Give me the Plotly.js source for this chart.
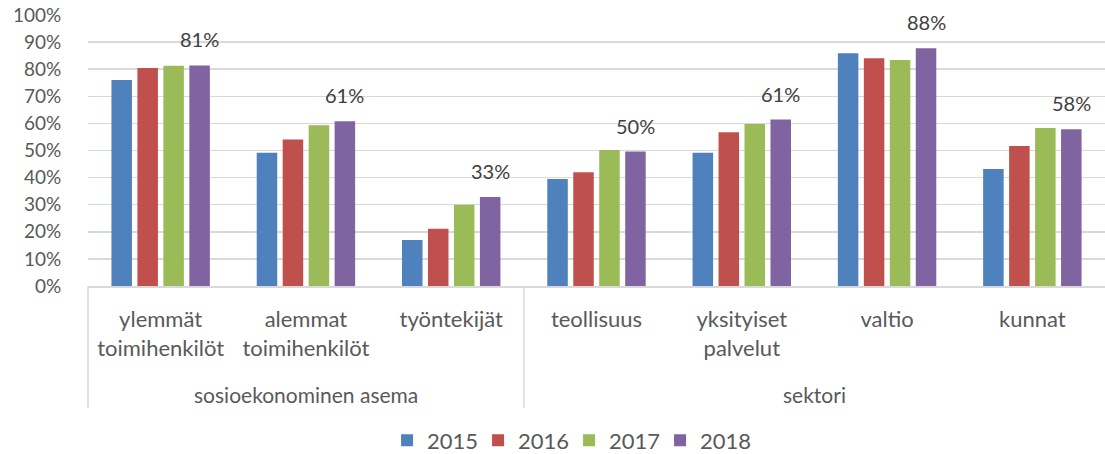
<!DOCTYPE html>
<html>
<head>
<meta charset="utf-8">
<script src="https://cdn.plot.ly/plotly-3.0.1.min.js"></script>
<style>
  html, body { margin: 0; padding: 0; background: #ffffff; }
  #chart { width: 1105px; height: 454px; }
</style>
</head>
<body>
<div id="chart"></div>
<script>
// ---- Data (values in percent) ----
const categories = [
  'ylemmät<br>toimihenkilöt',
  'alemmat<br>toimihenkilöt',
  'työntekijät',
  'teollisuus',
  'yksityiset<br>palvelut',
  'valtio',
  'kunnat'
];
const groups = ['sosioekonominen asema', 'sektori'];
const groupCenters = [1, 4.5];
const groupDivider = 2.5;
const years = ['2015', '2016', '2017', '2018'];
const v2015 = [76.0, 49.2, 17.0, 39.5, 49.2, 85.9, 43.2];
const v2016 = [80.4, 54.1, 21.1, 42.0, 56.7, 84.0, 51.7];
const v2017 = [81.3, 59.3, 30.0, 50.2, 59.8, 83.4, 58.3];
const v2018 = [81.4, 60.8, 32.8, 49.6, 61.4, 87.7, 57.8];
const colors = ['#4F81BD', '#C0504D', '#9BBB59', '#8064A2'];

const series = [v2015, v2016, v2017, v2018];
const FONT = 'Lato, "Open Sans", sans-serif';
const TXT = '#595959';

const traces = series.map((vals, i) => ({
  type: 'bar',
  name: years[i],
  x: categories,
  y: vals,
  marker: { color: colors[i], line: { width: 0 } },
  hoverinfo: 'x+y+name'
}));

// layout geometry
const W = 1105, H = 454;
const margin = { l: 88, r: 0, t: 15, b: 168 };
const bargap = 0.285, bargroupgap = 0.21;
const catPx = (W - margin.l - margin.r) / categories.length;
const slotPx = catPx * (1 - bargap) / years.length;
const lastOffset = 1.5 * slotPx;

const annotations = [];
// data labels on the last series
v2018.forEach((v, i) => {
  annotations.push({
    x: categories[i], y: v, xref: 'x', yref: 'y',
    text: Math.round(v) + '%',
    showarrow: false, xshift: lastOffset, yshift: 12,
    yanchor: 'bottom', xanchor: 'center',
    font: { family: FONT, size: 20, color: '#404040' }
  });
});
// group labels
groups.forEach((g, i) => {
  annotations.push({
    x: groupCenters[i], y: -0.4, xref: 'x', yref: 'paper',
    text: g, showarrow: false, xanchor: 'center', yanchor: 'middle',
    font: { family: FONT, size: 21, color: TXT }
  });
});

const shapes = [
  { type: 'line', xref: 'paper', yref: 'paper', x0: 0, x1: 0, y0: 0, y1: -0.45,
    line: { color: '#D9D9D9', width: 1.5 } },
  { type: 'line', xref: 'x', yref: 'paper', x0: groupDivider, x1: groupDivider, y0: 0, y1: -0.45,
    line: { color: '#D9D9D9', width: 1.5 } }
];

const layout = {
  width: W, height: H,
  margin: margin,
  paper_bgcolor: '#ffffff', plot_bgcolor: '#ffffff',
  font: { family: FONT, size: 18, color: TXT },
  barmode: 'group',
  bargap: bargap, bargroupgap: bargroupgap,
  showlegend: true,
  legend: {
    orientation: 'h', xref: 'container', yref: 'container',
    x: 0.515, xanchor: 'center', y: 0.03, yanchor: 'middle',
    font: { family: FONT, size: 22, color: TXT }, itemwidth: 30,
    entrywidth: 46, entrywidthmode: 'pixels',
    traceorder: 'normal', bgcolor: 'rgba(0,0,0,0)',
    tracegroupgap: 0
  },
  xaxis: {
    type: 'category',
    range: [-0.5, categories.length - 0.5],
    showline: true, linecolor: '#D9D9D9', linewidth: 1.5,
    showgrid: false, zeroline: false,
    ticks: 'outside', ticklen: 13, tickcolor: 'rgba(0,0,0,0)',
    tickfont: { family: FONT, size: 22, color: TXT },
    tickangle: 0, automargin: false
  },
  yaxis: {
    range: [0, 100],
    dtick: 10, tick0: 0,
    ticksuffix: '%',
    showgrid: true, gridcolor: '#D9D9D9', gridwidth: 1.5,
    zeroline: false, showline: false,
    ticks: 'outside', ticklen: 22, tickcolor: 'rgba(0,0,0,0)',
    tickfont: { family: FONT, size: 19, color: TXT }, automargin: false
  },
  annotations: annotations,
  shapes: shapes
};

Plotly.newPlot('chart', traces, layout, { displayModeBar: false, staticPlot: true });
</script>
</body>
</html>
